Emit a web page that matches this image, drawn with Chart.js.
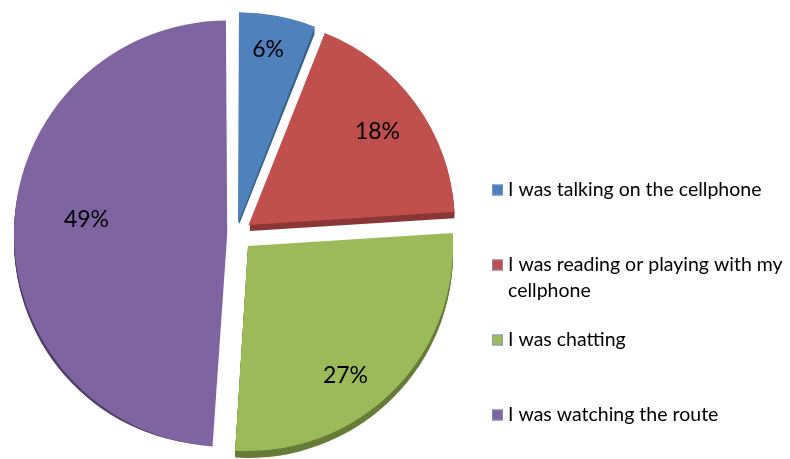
<!DOCTYPE html>
<html>
<head>
<meta charset="utf-8">
<script src="https://cdn.jsdelivr.net/npm/chart.js@4.4.1/dist/chart.umd.min.js"></script>
<style>
  html, body { margin: 0; padding: 0; background: #ffffff; }
  #wrap { width: 790px; height: 459px; position: relative; }
</style>
</head>
<body>
<div id="wrap"><canvas id="c" width="790" height="459"></canvas></div>
<script>
// Survey answers: what respondents were doing
const categories = [
  "I was talking on the cellphone",
  "I was reading or playing with my cellphone",
  "I was chatting",
  "I was watching the route"
];
const shares = [6, 18, 27, 49];
const sliceColors = ["#4F81BD", "#C0504D", "#9BBB59", "#8064A2"];
const sideColors = ["#38608E", "#8A3735", "#667C38", "#4E3C66"];
// label placement: fraction of the radius, and a small turn off the slice's middle (degrees)
const labelRadius = [0.83, 0.77, 0.79, 0.65];
const labelTurn = [-1, 0, 8, 4];

const FONT = "Lato, 'Open Sans', sans-serif";
const EXPLODE = 17;   // how far every slice is pulled out from the centre, px

// Chart.js scales an arc's offset by its sweep when drawing; pick the
// per-slice option that yields the same pull-out for every slice.
const total = shares.reduce((a, b) => a + b, 0);
const arcOffsets = shares.map(v => {
  const circ = v / total * 2 * Math.PI;
  const fix = 1 - Math.sin(Math.min(Math.PI, circ));
  return 4 * EXPLODE / (1 + fix);
});

function sliceCentre(arc) {
  const p = arc.getProps(["x", "y", "startAngle", "endAngle", "outerRadius"], true);
  const mid = (p.startAngle + p.endAngle) / 2;
  return {
    cx: p.x + Math.cos(mid) * EXPLODE,
    cy: p.y + Math.sin(mid) * EXPLODE,
    mid, r: p.outerRadius, start: p.startAngle, end: p.endAngle
  };
}

// Extruded rim under each slice, giving the pie its thickness
const rimPlugin = {
  id: "rim",
  beforeDatasetsDraw(chart) {
    const ctx = chart.ctx;
    const meta = chart.getDatasetMeta(0);
    const depth = 7;
    meta.data.forEach((arc, i) => {
      const s = sliceCentre(arc);
      ctx.save();
      ctx.fillStyle = sideColors[i];
      for (let d = depth; d >= 1; d--) {
        ctx.beginPath();
        ctx.moveTo(s.cx, s.cy + d);
        ctx.arc(s.cx, s.cy + d, s.r, s.start, s.end);
        ctx.closePath();
        ctx.fill();
      }
      ctx.restore();
    });
  }
};

// Percentage labels inside the slices
const valueLabelPlugin = {
  id: "valueLabels",
  afterDatasetsDraw(chart) {
    const ctx = chart.ctx;
    const meta = chart.getDatasetMeta(0);
    const values = chart.data.datasets[0].data;
    ctx.save();
    ctx.font = "23px " + FONT;
    ctx.fillStyle = "#000000";
    ctx.textAlign = "center";
    ctx.textBaseline = "middle";
    meta.data.forEach((arc, i) => {
      const s = sliceCentre(arc);
      const r = s.r * labelRadius[i];
      const a = s.mid + labelTurn[i] * Math.PI / 180;
      ctx.fillText(values[i] + "%", s.cx + Math.cos(a) * r, s.cy + Math.sin(a) * r);
    });
    ctx.restore();
  }
};

// Legend on the right, with word wrapping
const sideLegendPlugin = {
  id: "sideLegend",
  afterDraw(chart) {
    const ctx = chart.ctx;
    const labels = chart.data.labels;
    const colors = chart.data.datasets[0].backgroundColor;
    const boxX = 492, box = 11, textX = 508;
    const maxW = 284;
    const firstY = 190, step = 75, lineH = 26;
    ctx.save();
    ctx.font = "19.5px " + FONT;
    ctx.textBaseline = "middle";
    ctx.textAlign = "left";
    labels.forEach((text, i) => {
      const y = firstY + step * i;
      ctx.fillStyle = colors[i];
      ctx.fillRect(boxX, y - box / 2, box, box);
      ctx.strokeStyle = "rgba(120,150,200,0.8)";
      ctx.lineWidth = 1;
      ctx.strokeRect(boxX + 0.5, y - box / 2 + 0.5, box - 1, box - 1);
      const words = text.split(" ");
      const lines = [];
      let line = "";
      words.forEach(w => {
        const t = line ? line + " " + w : w;
        if (ctx.measureText(t).width > maxW && line) { lines.push(line); line = w; }
        else line = t;
      });
      lines.push(line);
      ctx.fillStyle = "#000000";
      lines.forEach((l, k) => ctx.fillText(l, textX, y + k * lineH));
    });
    ctx.restore();
  }
};

new Chart(document.getElementById("c"), {
  type: "pie",
  data: {
    labels: categories,
    datasets: [{
      data: shares,
      backgroundColor: sliceColors,
      borderWidth: 0,
      offset: arcOffsets
    }]
  },
  options: {
    responsive: false,
    animation: false,
    radius: 205,
    layout: { padding: { left: 0, right: 318, top: 9, bottom: 0 } },
    plugins: {
      legend: { display: false },
      tooltip: { enabled: false }
    }
  },
  plugins: [rimPlugin, valueLabelPlugin, sideLegendPlugin]
});
</script>
</body>
</html>
